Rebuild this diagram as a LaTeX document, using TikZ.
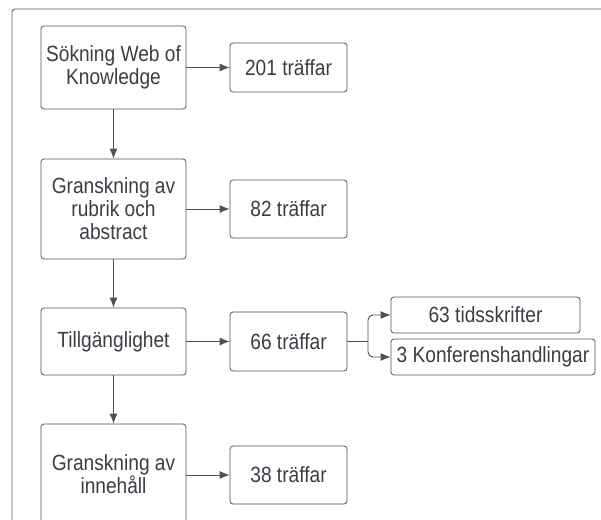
\documentclass[tikz,border=0pt]{standalone}
\usepackage{fontspec}
\setmainfont[FakeStretch=0.87]{Liberation Sans}
\usepackage{tikz}
\usetikzlibrary{arrows.meta,positioning}
\definecolor{boxline}{HTML}{50545C}
\definecolor{flowline}{HTML}{4C5058}
\definecolor{boxtext}{HTML}{3A3E45}
\tikzset{
    stage/.style={draw=boxline, line width=0.8pt, rounded corners=3pt, minimum width=145pt,
                  align=center, text=boxtext, inner sep=2pt},
    hits/.style={draw=boxline, line width=0.8pt, rounded corners=3pt, minimum width=117pt,
                 text=boxtext, inner sep=2pt},
    kind/.style={draw=boxline, line width=0.8pt, rounded corners=3pt, minimum height=36pt,
                 text=boxtext, inner sep=2pt},
    flow/.style={draw=flowline, line width=0.9pt, -{Latex[length=10pt,width=8pt]}},
    frame/.style={draw=black!62, line width=0.9pt, rounded corners=3pt},
}

\begin{document}
\begin{tikzpicture}[x=1pt, y=-1pt, font=\fontsize{22}{23}\selectfont]
    \clip (0,0) rectangle (601,519);
    \fill[white] (0,0) rectangle (601,519);

    % Outer frame
    \draw[frame] (12,540) -- (12,9) -- (620,9);

    % Search stages
    \node[stage, minimum height=83pt] (search) at (113.5,67.5) {Sökning Web of\\Knowledge};
    \node[stage, minimum height=100pt] (title) at (113.5,209) {Granskning av\\rubrik och\\abstract};
    \node[stage, minimum height=67pt] (access) at (113.5,341.5) {Tillgänglighet};
    \node[stage, minimum height=100pt] (content) at (113.5,474) {Granskning av\\innehåll};

    % Number of hits
    \node[hits, minimum height=49pt] (hitsA) at (288.5,67.5) {201 träffar};
    \node[hits, minimum height=58pt] (hitsB) at (288.5,209) {82 träffar};
    \node[hits, minimum height=59pt] (hitsC) at (288.5,341.5) {66 träffar};
    \node[hits, minimum height=58pt] (hitsD) at (288.5,475) {38 träffar};

    % Split by kind
    \node[kind, minimum width=189pt] (journals) at (485.5,315) {63 tidsskrifter};
    \node[kind, minimum width=204pt] (proceedings) at (493,357) {3 Konferenshandlingar};

    % Down the chain
    \draw[flow] (search) -- (title);
    \draw[flow] (title) -- (access);
    \draw[flow] (access) -- (content);

    % Across to the hits
    \draw[flow] (search) -- (hitsA);
    \draw[flow] (title) -- (hitsB);
    \draw[flow] (access) -- (hitsC);
    \draw[flow] (content.east |- hitsD) -- (hitsD);

    % Branch
    \coordinate (split) at (368,341.5);
    \draw[flowline, line width=0.9pt] (hitsC) -- (split);
    \draw[flow, rounded corners=5pt] (split) |- (journals);
    \draw[flow, rounded corners=5pt] (split) |- (proceedings);
\end{tikzpicture}
\end{document}
